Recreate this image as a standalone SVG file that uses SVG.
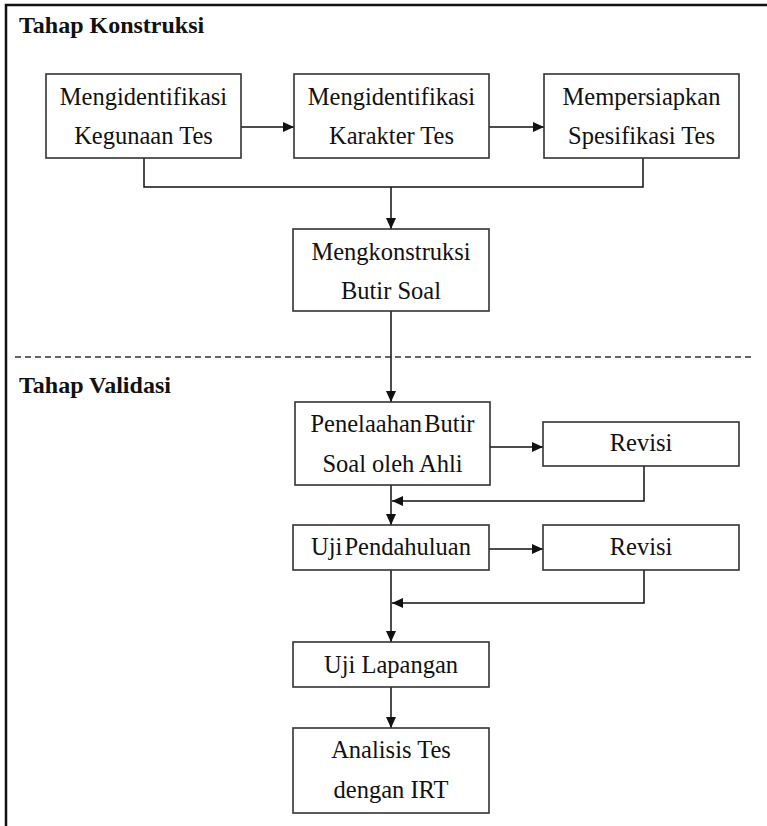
<svg xmlns="http://www.w3.org/2000/svg" width="767" height="826" viewBox="0 0 767 826">
<defs>
<marker id="ah" markerUnits="userSpaceOnUse" markerWidth="11" markerHeight="10" refX="11" refY="5" orient="auto">
<path d="M0,0 L11,5 L0,10 z" fill="#111"/>
</marker>
<style>
.box{fill:#fff;stroke:#333;stroke-width:1.6}
.t{font-family:'Liberation Serif','Times New Roman','DejaVu Serif',serif;font-size:24.5px;fill:#111;text-anchor:middle}
.h{font-family:'Liberation Serif','Times New Roman','DejaVu Serif',serif;font-size:24px;font-weight:bold;fill:#111}
.c{fill:none;stroke:#111;stroke-width:1.5}
.ar{marker-end:url(#ah)}
</style>
</defs>
<rect width="767" height="826" fill="#fff"/>
<path d="M6,826 V5 H767" fill="none" stroke="#111" stroke-width="2.5"/>
<path d="M15,357 H752" fill="none" stroke="#333" stroke-width="1.3" stroke-dasharray="6 4"/>
<text class="h" x="19" y="33">Tahap Konstruksi</text>
<text class="h" x="19" y="393">Tahap Validasi</text>

<g id="connectors">
<path class="c ar" d="M241,127 H294"/>
<path class="c ar" d="M489,127 H544"/>
<path class="c" d="M144,158 V187 H643 V158"/>
<path class="c ar" d="M391,187 V229"/>
<path class="c ar" d="M391,311 V402"/>
<path class="c ar" d="M490,447 H543"/>
<path class="c ar" d="M644,466 V501 H392"/>
<path class="c ar" d="M391,485 V525"/>
<path class="c ar" d="M489,549 H543"/>
<path class="c ar" d="M644,570 V603 H392"/>
<path class="c ar" d="M391,570 V642"/>
<path class="c ar" d="M391,687 V728"/>
</g>

<g id="n1"><rect class="box" x="46" y="74" width="195" height="84"/>
<text class="t" x="143.5" y="105">Mengidentifikasi</text><text class="t" x="143.5" y="144">Kegunaan Tes</text></g>
<g id="n2"><rect class="box" x="294" y="74" width="195" height="84"/>
<text class="t" x="391.5" y="105">Mengidentifikasi</text><text class="t" x="391.5" y="144">Karakter Tes</text></g>
<g id="n3"><rect class="box" x="544" y="74" width="195" height="84"/>
<text class="t" x="641.5" y="105">Mempersiapkan</text><text class="t" x="641.5" y="144">Spesifikasi Tes</text></g>
<g id="n4"><rect class="box" x="293" y="229" width="196" height="82"/>
<text class="t" x="391" y="260">Mengkonstruksi</text><text class="t" x="391" y="299">Butir Soal</text></g>
<g id="n5"><rect class="box" x="295" y="402" width="195" height="83"/>
<text class="t" x="392.5" y="432" word-spacing="-4">Penelaahan Butir</text><text class="t" x="392.5" y="472">Soal oleh Ahli</text></g>
<g id="n6"><rect class="box" x="543" y="422" width="196" height="44"/>
<text class="t" x="641" y="451">Revisi</text></g>
<g id="n7"><rect class="box" x="293" y="525" width="196" height="45"/>
<text class="t" x="391" y="555" word-spacing="-4">Uji Pendahuluan</text></g>
<g id="n8"><rect class="box" x="543" y="525" width="196" height="45"/>
<text class="t" x="641" y="555">Revisi</text></g>
<g id="n9"><rect class="box" x="293" y="642" width="196" height="45"/>
<text class="t" x="391" y="673">Uji Lapangan</text></g>
<g id="n10"><rect class="box" x="293" y="728" width="196" height="85"/>
<text class="t" x="391" y="758">Analisis Tes</text><text class="t" x="391" y="798">dengan IRT</text></g>
</svg>
